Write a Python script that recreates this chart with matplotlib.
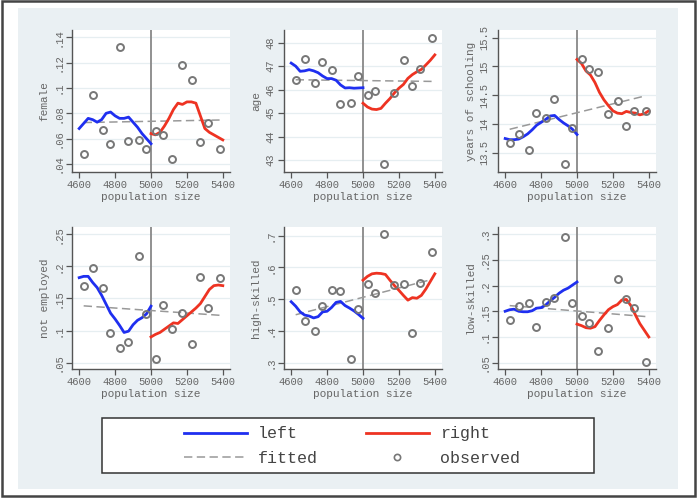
import numpy as np
import matplotlib
matplotlib.use("Agg")
import matplotlib.pyplot as plt
from matplotlib.lines import Line2D
from matplotlib.patches import Rectangle

# binned observations (population size bins)
pop_obs = [4625, 4677, 4733, 4774, 4830, 4873, 4934, 4972,
           5027, 5069, 5115, 5174, 5226, 5273, 5319, 5382]
# grids of the local smooths on each side of the cutoff
pop_left = [4600, 4625, 4650, 4675, 4700, 4725, 4750, 4775, 4800,
            4825, 4850, 4875, 4900, 4925, 4950, 4975, 5000]
pop_right = [5000, 5025, 5050, 5075, 5100, 5125, 5150, 5175, 5200,
             5225, 5250, 5275, 5300, 5325, 5350, 5375, 5400]
cutoff = 5000

female_obs = [0.048, 0.0948, 0.0666, 0.0559, 0.1324, 0.058, 0.0588, 0.052,
              0.0658, 0.063, 0.044, 0.118, 0.106, 0.0575, 0.0727, 0.0517]
female_left = [0.068, 0.072, 0.076, 0.075, 0.073, 0.075, 0.080, 0.081, 0.078,
               0.076, 0.076, 0.077, 0.073, 0.069, 0.064, 0.060, 0.056]
female_right = [0.064, 0.063, 0.065, 0.070, 0.076, 0.083, 0.088, 0.087, 0.089,
                0.089, 0.088, 0.078, 0.068, 0.065, 0.063, 0.061, 0.059]
female_fit = [0.0727, 0.0747]

age_obs = [46.42, 47.30, 46.27, 47.17, 46.85, 45.38, 45.42, 46.59,
           45.77, 45.92, 42.83, 45.87, 47.28, 46.14, 46.89, 48.21]
age_left = [47.13, 47.00, 46.78, 46.80, 46.85, 46.80, 46.72, 46.58, 46.47,
            46.47, 46.40, 46.20, 46.07, 46.08, 46.06, 46.07, 46.08]
age_right = [45.42, 45.26, 45.17, 45.15, 45.20, 45.42, 45.62, 45.86, 46.06,
             46.22, 46.48, 46.64, 46.76, 46.86, 47.05, 47.25, 47.48]
age_fit = [46.42, 46.35]

school_obs = [13.67, 13.82, 13.55, 14.19, 14.10, 14.44, 13.31, 13.93,
              15.12, 14.96, 14.90, 14.18, 14.40, 13.96, 14.22, 14.23]
school_left = [13.75, 13.73, 13.73, 13.74, 13.78, 13.83, 13.90, 13.98, 14.03,
               14.08, 14.14, 14.15, 14.08, 14.02, 13.97, 13.91, 13.82]
school_right = [15.12, 15.05, 14.92, 14.85, 14.72, 14.55, 14.42, 14.32, 14.23,
                14.19, 14.18, 14.22, 14.20, 14.19, 14.16, 14.18, 14.23]
school_fit = [13.91, 14.49]

notemp_obs = [0.1689, 0.1976, 0.1668, 0.0961, 0.072, 0.0814, 0.216, 0.1254,
              0.0563, 0.1395, 0.1029, 0.1275, 0.0793, 0.183, 0.1353, 0.1819]
notemp_left = [0.1825, 0.1845, 0.1845, 0.175, 0.167, 0.155, 0.141, 0.127, 0.118,
               0.108, 0.097, 0.099, 0.109, 0.116, 0.120, 0.126, 0.138]
notemp_right = [0.090, 0.094, 0.097, 0.102, 0.107, 0.112, 0.111, 0.117, 0.123,
                0.129, 0.135, 0.142, 0.153, 0.164, 0.170, 0.171, 0.170]
notemp_fit = [0.1385, 0.1238]

high_obs = [0.5296, 0.4312, 0.3995, 0.480, 0.5296, 0.5243, 0.3127, 0.468,
            0.5466, 0.519, 0.705, 0.5455, 0.5487, 0.394, 0.5519, 0.648]
high_left = [0.492, 0.478, 0.460, 0.450, 0.447, 0.441, 0.445, 0.460, 0.462,
             0.474, 0.490, 0.493, 0.480, 0.472, 0.463, 0.452, 0.440]
high_right = [0.560, 0.572, 0.580, 0.582, 0.581, 0.578, 0.560, 0.543, 0.528,
              0.512, 0.497, 0.505, 0.503, 0.512, 0.532, 0.556, 0.580]
high_fit = [0.451, 0.562]

low_obs = [0.1325, 0.1606, 0.1665, 0.120, 0.1685, 0.175, 0.2948, 0.1665,
           0.1416, 0.1266, 0.0736, 0.118, 0.213, 0.173, 0.1567, 0.052]
low_left = [0.150, 0.153, 0.154, 0.150, 0.149, 0.149, 0.151, 0.156, 0.157,
            0.162, 0.170, 0.177, 0.185, 0.191, 0.195, 0.201, 0.207]
low_right = [0.125, 0.122, 0.118, 0.117, 0.120, 0.132, 0.143, 0.153, 0.159,
             0.163, 0.172, 0.173, 0.161, 0.143, 0.126, 0.113, 0.100]
low_fit = [0.161, 0.1397]

x_ticks = [4600, 4800, 5000, 5200, 5400]

panels = [
    ("female", female_obs, female_left, female_right, female_fit,
     [0.04, 0.06, 0.08, 0.10, 0.12, 0.14], (0.0337, 0.1457)),
    ("age", age_obs, age_left, age_right, age_fit,
     [43, 44, 45, 46, 47, 48], (42.49, 48.54)),
    ("years of schooling", school_obs, school_left, school_right, school_fit,
     [13.5, 14, 14.5, 15, 15.5], (13.17, 15.63)),
    ("not employed", notemp_obs, notemp_left, notemp_right, notemp_fit,
     [0.05, 0.10, 0.15, 0.20, 0.25], (0.040, 0.2615)),
    ("high-skilled", high_obs, high_left, high_right, high_fit,
     [0.3, 0.4, 0.5, 0.6, 0.7], (0.28, 0.7276)),
    ("low-skilled", low_obs, low_left, low_right, low_fit,
     [0.05, 0.10, 0.15, 0.20, 0.25, 0.30], (0.0376, 0.314)),
]

BLUE = "#1f2ff0"
RED = "#ee3322"
GREY = "#999999"
TXT = "#666666"
AX = "#555555"
BG = "#eaf0f3"

plt.rcParams["font.family"] = ["Liberation Mono", "DejaVu Sans Mono"]
plt.rcParams["lines.scale_dashes"] = False


def stata_fmt(v):
    s = "%g" % round(v, 4)
    if s.startswith("0."):
        s = s[1:]
    return s


W, H = 697, 498
fig = plt.figure(figsize=(W / 100, H / 100), dpi=100)
fig.patch.set_facecolor("white")

# outer frame and shaded graph region
fig.patches.append(Rectangle((1.5 / W, 1 - 495.5 / H), 693 / W, 494 / H,
                             transform=fig.transFigure, facecolor="white",
                             edgecolor="#444444", lw=1.8, zorder=-3))
fig.patches.append(Rectangle((18 / W, 1 - 489 / H), 660 / W, 481 / H,
                             transform=fig.transFigure, facecolor=BG,
                             edgecolor="none", zorder=-2))
fig.patches.append(Rectangle((101.7 / W, 1 - 473.3 / H), 492.3 / W, 55.6 / H,
                             transform=fig.transFigure, facecolor="white",
                             edgecolor="#333333", lw=1.1, zorder=-1))

lefts = [72, 284, 498]
tops = [30, 227]
pw, ph = 158, 142

for k, (lab, obs, yl, yr, fit, yt, ylim) in enumerate(panels):
    col, row = k % 3, k // 3
    x0 = lefts[col] / W
    y0 = 1 - (tops[row] + ph) / H
    ax = fig.add_axes([x0, y0, pw / W, ph / H])
    ax.set_zorder(1)
    ax.set_facecolor("white")
    for yv in yt:
        ax.axhline(yv, color="#e6eef1", lw=0.9, zorder=0)
    ax.axvline(cutoff, color="#888888", lw=1.3, zorder=1)
    ax.plot([pop_obs[0], pop_obs[-1]], fit, color=GREY, lw=1.1,
            dashes=(6, 3.2), zorder=2)
    ax.plot(pop_left, yl, color=BLUE, lw=2.0, zorder=3)
    ax.plot(pop_right, yr, color=RED, lw=2.0, zorder=3)
    ax.plot(pop_obs, obs, "o", ms=5, mfc="none", mec="#777777", mew=1.4,
            zorder=4)
    ax.set_xlim(4560, 5440)
    ax.set_ylim(*ylim)
    ax.set_xticks(x_ticks)
    ax.set_xticklabels([str(t) for t in x_ticks])
    ax.set_yticks(yt)
    ax.set_yticklabels([stata_fmt(v) for v in yt], rotation=90, va="center")
    for s in ["top", "right"]:
        ax.spines[s].set_visible(False)
    for s in ["left", "bottom"]:
        ax.spines[s].set_color(AX)
        ax.spines[s].set_linewidth(1.0)
    ax.tick_params(axis="both", length=4, width=0.9, color=AX,
                   labelcolor=TXT, labelsize=7.6, pad=2)
    ax.set_xlabel("population size", color=TXT, fontsize=8, labelpad=1)
    ax.set_ylabel(lab, color=TXT, fontsize=8, labelpad=3)

handles = [
    Line2D([], [], color=BLUE, lw=2.0),
    Line2D([], [], color=GREY, lw=1.1, dashes=(6, 3.2)),
    Line2D([], [], color=RED, lw=2.0),
    Line2D([], [], ls="none", marker="o", ms=4.5, mfc="none",
           mec="#777777", mew=1.2),
]
labels = ["left", "fitted", "right", "observed"]
leg = fig.legend(handles, labels, ncol=2, loc="center",
                 bbox_to_anchor=(352 / W, 1 - 446 / H), frameon=False,
                 fontsize=12, handlelength=3.75, handletextpad=0.68,
                 columnspacing=2.9, labelspacing=0.55, borderpad=0)
for t in leg.get_texts():
    t.set_color("#444444")

fig.savefig("out.png", dpi=100, facecolor=fig.get_facecolor())
